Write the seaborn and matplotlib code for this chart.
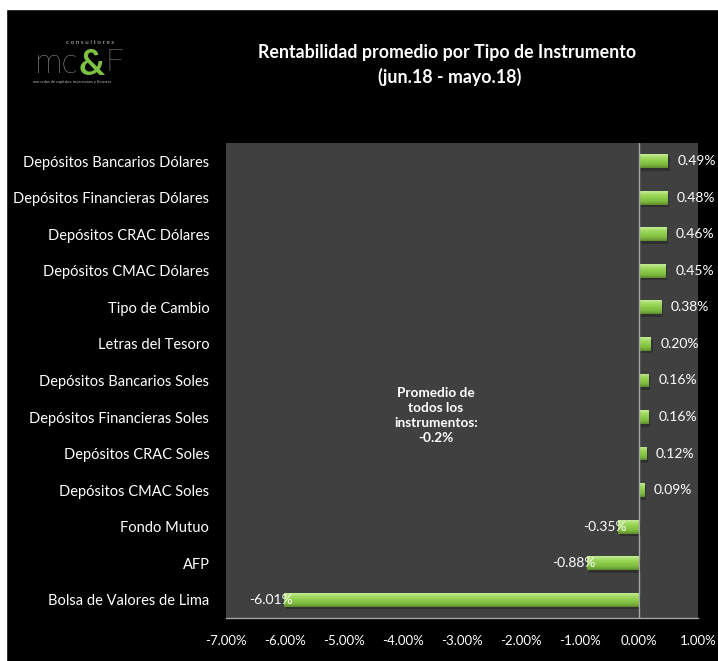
import numpy as np
import pandas as pd
import matplotlib.pyplot as plt
import seaborn as sns
from matplotlib.colors import LinearSegmentedColormap
from matplotlib.ticker import FuncFormatter

# -----------------------------------
# DATA
# -----------------------------------
instrumentos = [
    "Depósitos Bancarios Dólares",
    "Depósitos Financieras Dólares",
    "Depósitos CRAC Dólares",
    "Depósitos CMAC Dólares",
    "Tipo de Cambio",
    "Letras del Tesoro",
    "Depósitos Bancarios Soles",
    "Depósitos Financieras Soles",
    "Depósitos CRAC Soles",
    "Depósitos CMAC Soles",
    "Fondo Mutuo",
    "AFP",
    "Bolsa de Valores de Lima",
]
rentabilidad = [0.49, 0.48, 0.46, 0.45, 0.38, 0.20, 0.16, 0.16, 0.12, 0.09, -0.35, -0.88, -6.01]
x_ticks = [-7, -6, -5, -4, -3, -2, -1, 0, 1]
promedio = -0.2

df = pd.DataFrame({"instrumento": instrumentos, "rentabilidad": rentabilidad})

# -----------------------------------
# VISUAL SETTINGS
# -----------------------------------
sns.set_style("dark")
plt.rcParams["font.family"] = ["Lato", "DejaVu Sans"]

fig = plt.figure(figsize=(7.18, 6.61), dpi=100, facecolor="black")
ax = fig.add_axes([0.3148, 0.0651, 0.6573, 0.7186])
ax.set_facecolor("#404040")

sns.barplot(data=df, x="rentabilidad", y="instrumento", orient="h",
            color="#92cf4f", width=0.38, linewidth=0, edgecolor="none",
            ax=ax, zorder=3)

# gradient fill on each bar
grad_cmap = LinearSegmentedColormap.from_list(
    "verde", ["#c4ec95", "#a2da62", "#8ccb49", "#7fbb3f", "#5e8c2c"])
grad = np.linspace(0, 1, 64).reshape(-1, 1)
for p in list(ax.patches):
    x0, y0 = p.get_x(), p.get_y()
    w, h = p.get_width(), p.get_height()
    # shadow
    ax.add_patch(plt.Rectangle((x0 + 0.03, y0 + 0.07), w, h, facecolor="#262626",
                               edgecolor="none", alpha=0.6, zorder=2, lw=0))
    im = ax.imshow(grad, cmap=grad_cmap, aspect="auto", origin="upper",
                   extent=(x0, x0 + w, y0 + h, y0), zorder=4)
    im.set_clip_path(p)

ax.set_xlim(-7, 1)
ax.set_ylim(len(instrumentos) - 0.5, -0.5)
ax.set_xticks(x_ticks)
ax.xaxis.set_major_formatter(FuncFormatter(lambda v, _: f"{v:.2f}%"))
ax.tick_params(axis="x", colors="white", labelsize=9.5, length=0, pad=12)
ax.tick_params(axis="y", colors="white", labelsize=10.5, length=0, pad=12)
ax.set_xlabel("")
ax.set_ylabel("")
ax.grid(False)

for s in ["top", "right", "left"]:
    ax.spines[s].set_visible(False)
ax.spines["bottom"].set_color("#a6a6a6")
ax.spines["bottom"].set_linewidth(1)
ax.axvline(0, color="#a6a6a6", lw=1, zorder=5)

# value labels
for i, v in enumerate(rentabilidad):
    if v >= 0:
        ax.annotate(f"{v:.2f}%", (v, i), xytext=(7, 0), textcoords="offset points",
                    ha="left", va="center", color="white", fontsize=10, zorder=6)
    else:
        ax.annotate(f"{v:.2f}%", (v, i), xytext=(6, 0), textcoords="offset points",
                    ha="right", va="center", color="white", fontsize=10, zorder=6)

ax.text(-3.44, 6.95, f"Promedio de\ntodos los\ninstrumentos:\n{promedio}%",
        ha="center", va="center", color="white", fontsize=9.8, fontweight="bold",
        linespacing=1.3, zorder=6)

# title
fig.text(0.622, 0.920, "Rentabilidad promedio por Tipo de Instrumento",
         ha="center", va="center", color="white", fontsize=12.8, fontweight="bold")
fig.text(0.627, 0.883, "(jun.18 - mayo.18)",
         ha="center", va="center", color="white", fontsize=12.8, fontweight="bold")

# logo
t_mc = fig.text(0.048, 0.905, "mc", ha="left", va="center", color="#d9d9d9",
                fontsize=25, fontweight="light")
t_amp = fig.text(0, 0, "&", color="#7dc242", fontsize=26, fontweight="bold",
                 transform=None)
t_amp.remove()
t_amp = fig.add_artist(plt.matplotlib.text.Annotation(
    "&", xy=(1, 0.5), xycoords=t_mc, xytext=(0.5, -1), textcoords="offset points",
    ha="left", va="center", color="#7dc242", fontsize=26, fontweight="bold"))
fig.add_artist(plt.matplotlib.text.Annotation(
    "F", xy=(1, 0.5), xycoords=t_amp, xytext=(0.5, 1), textcoords="offset points",
    ha="left", va="center", color="#d9d9d9", fontsize=23, fontweight="light"))
fig.add_artist(plt.matplotlib.text.Annotation(
    "c o n s u l t o r e s", xy=(1, 1), xycoords=t_mc, xytext=(26, 1),
    textcoords="offset points", ha="right", va="bottom", color="#bbbbbb", fontsize=4.5))
fig.add_artist(plt.matplotlib.text.Annotation(
    "mercados de capitales, inversiones y finanzas", xy=(0, 0), xycoords=t_mc,
    xytext=(-1, -1), textcoords="offset points", ha="left", va="top",
    color="#bbbbbb", fontsize=2.9))

# white border strips (top / left)
fig.patches.append(plt.Rectangle((0, 1 - 9 / 661), 1, 9 / 661, transform=fig.transFigure,
                                 color="white", zorder=0))
fig.patches.append(plt.Rectangle((0, 0), 6 / 718, 1, transform=fig.transFigure,
                                 color="white", zorder=0))

fig.savefig("out.png", dpi=100, facecolor="black")
